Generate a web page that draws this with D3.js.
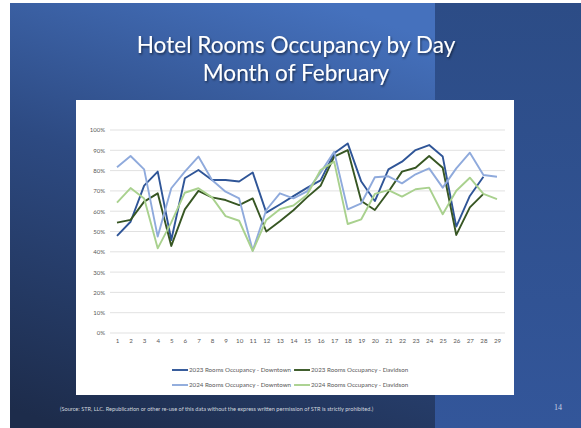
<!DOCTYPE html>
<html>
<head>
<meta charset="utf-8">
<script src="https://cdn.jsdelivr.net/npm/d3@7"></script>
<style>
  html, body { margin: 0; padding: 0; background: #fff; }
  svg { display: block; }
</style>
</head>
<body>
<div id="chart"></div>
<script>
// days of february
var days = d3.range(1, 30);

var dt2023 = [47.8, 54.8, 72.6, 79.5, 45.8, 76.2, 80.3, 75.4, 75.4, 74.6, 79.1, 59.3, 63.3, 67.4, 71.5, 75.2, 88.5, 93.4, 74.6, 65.0, 80.6, 84.4, 90.1, 92.6, 86.9, 52.4, 67.5, 77.0];
var dv2023 = [54.4, 55.7, 64.7, 68.8, 42.9, 60.9, 70.0, 66.8, 65.5, 63.0, 66.3, 50.0, 55.0, 60.5, 66.8, 72.5, 86.9, 90.1, 65.0, 60.6, 69.6, 79.5, 81.4, 87.2, 81.4, 48.3, 61.9, 68.5];
var dt2024 = [81.6, 87.2, 80.6, 47.5, 71.3, 79.5, 86.9, 75.4, 69.6, 66.3, 40.6, 60.6, 68.8, 66.3, 69.8, 79.0, 89.3, 60.9, 63.9, 76.7, 77.2, 73.7, 78.2, 81.1, 71.6, 81.1, 88.8, 77.8, 77.0];
var dv2024 = [64.2, 71.4, 66.3, 41.7, 54.5, 69.1, 71.3, 66.8, 57.6, 55.3, 40.4, 55.7, 61.0, 62.8, 68.0, 80.3, 84.4, 53.7, 56.0, 68.5, 70.4, 67.2, 70.8, 71.6, 58.5, 70.1, 76.5, 68.5, 66.0];

var seriesNames = ["2023 Rooms Occupancy - Downtown", "2023 Rooms Occupancy - Davidson",
                   "2024 Rooms Occupancy - Downtown", "2024 Rooms Occupancy - Davidson"];
var seriesColors = ["#2f5597", "#375623", "#8faadc", "#a9d18e"];
var yTicks = d3.range(0, 101, 10);

var width = 581, height = 428;

var svg = d3.select("#chart").append("svg")
  .attr("width", width)
  .attr("height", height);

var defs = svg.append("defs");

// slide background
var bg = defs.append("linearGradient").attr("id", "bg")
  .attr("x1", "0.55").attr("y1", "0").attr("x2", "0.1").attr("y2", "1");
bg.append("stop").attr("offset", "0").attr("stop-color", "#4571bd");
bg.append("stop").attr("offset", "0.45").attr("stop-color", "#2d4a82");
bg.append("stop").attr("offset", "1").attr("stop-color", "#1d2c4b");

var side = defs.append("linearGradient").attr("id", "side")
  .attr("x1", "0").attr("y1", "0").attr("x2", "0").attr("y2", "1");
side.append("stop").attr("offset", "0").attr("stop-color", "#2c4c86");
side.append("stop").attr("offset", "1").attr("stop-color", "#33569a");

var shadow = defs.append("filter").attr("id", "shadow")
  .attr("x", "-10%").attr("y", "-20%").attr("width", "120%").attr("height", "150%");
shadow.append("feDropShadow").attr("dx", 1).attr("dy", 1.5)
  .attr("stdDeviation", 1).attr("flood-color", "#000").attr("flood-opacity", 0.55);

svg.append("rect").attr("x", 10).attr("y", 3).attr("width", width - 10).attr("height", height - 3)
  .attr("fill", "url(#bg)");
svg.append("rect").attr("x", 435).attr("y", 3).attr("width", width - 435).attr("height", height - 3)
  .attr("fill", "url(#side)");

// title
var title = svg.append("text")
  .attr("text-anchor", "middle")
  .attr("fill", "#fff")
  .attr("font-family", "Lato, 'Open Sans', sans-serif")
  .attr("font-size", 22.6)
  .attr("filter", "url(#shadow)");
title.append("tspan").attr("x", 296).attr("y", 53).text("Hotel Rooms Occupancy by Day");
title.append("tspan").attr("x", 296).attr("y", 81).text("Month of February");

// chart box
svg.append("rect").attr("x", 76).attr("y", 100).attr("width", 438).attr("height", 295)
  .attr("fill", "#fff");

var x = d3.scalePoint().domain(days).range([117, 497]);
var y = d3.scaleLinear().domain([0, 100]).range([333, 130]);

var grid = svg.append("g");
grid.selectAll("line").data(yTicks).enter().append("line")
  .attr("x1", 110).attr("x2", 505)
  .attr("y1", function(d) { return y(d); })
  .attr("y2", function(d) { return y(d); })
  .attr("stroke", "#d9d9d9")
  .attr("stroke-width", 0.8);

var yAxis = svg.append("g")
  .attr("transform", "translate(105,0)")
  .call(d3.axisLeft(y).tickValues(yTicks).tickSize(0).tickPadding(0)
    .tickFormat(function(d) { return d + "%"; }));
yAxis.select(".domain").remove();
yAxis.selectAll("text").attr("fill", "#595959")
  .attr("font-family", "Lato, sans-serif").attr("font-size", 6);

var xAxis = svg.append("g")
  .attr("transform", "translate(0,339)")
  .call(d3.axisBottom(x).tickSize(0).tickPadding(0));
xAxis.select(".domain").remove();
xAxis.selectAll("text").attr("fill", "#595959")
  .attr("font-family", "Lato, sans-serif").attr("font-size", 6.2);

var line = d3.line()
  .x(function(d, i) { return x(days[i]); })
  .y(function(d) { return y(d); });

var allSeries = [dt2023, dv2023, dt2024, dv2024];
// draw in office order: 2023 first, then 2024 on top
svg.append("g").selectAll("path").data(allSeries).enter().append("path")
  .attr("d", function(d) { return line(d); })
  .attr("fill", "none")
  .attr("stroke", function(d, i) { return seriesColors[i]; })
  .attr("stroke-width", 1.9)
  .attr("stroke-linejoin", "round");

// legend, two rows, second item placed after the first one's text
var legendRows = [[0, 1], [2, 3]], legendY = [370, 385];
legendRows.forEach(function(row, r) {
  var cx = 172;
  row.forEach(function(i) {
    var g = svg.append("g").attr("transform", "translate(" + cx + "," + legendY[r] + ")");
    g.append("line")
      .attr("x1", 0).attr("x2", 16).attr("y1", 0).attr("y2", 0)
      .attr("stroke", seriesColors[i])
      .attr("stroke-width", 1.9);
    var t = g.append("text")
      .attr("x", 17).attr("y", 2.2)
      .attr("fill", "#595959")
      .attr("font-family", "Lato, sans-serif")
      .attr("font-size", 6.2)
      .text(seriesNames[i]);
    cx = cx + 17 + t.node().getComputedTextLength() + 3;
  });
});

// footer
svg.append("text")
  .attr("x", 60).attr("y", 411)
  .attr("fill", "#d0d5de")
  .attr("font-family", "Lato, sans-serif")
  .attr("font-size", 5.6)
  .text("(Source: STR, LLC. Republication or other re-use of this data without the express written permission of STR is strictly prohibited.)");

svg.append("text")
  .attr("x", 558).attr("y", 410)
  .attr("text-anchor", "middle")
  .attr("fill", "#c9d1e3")
  .attr("font-family", "'Liberation Serif', serif")
  .attr("font-size", 8)
  .text("14");
</script>
</body>
</html>
